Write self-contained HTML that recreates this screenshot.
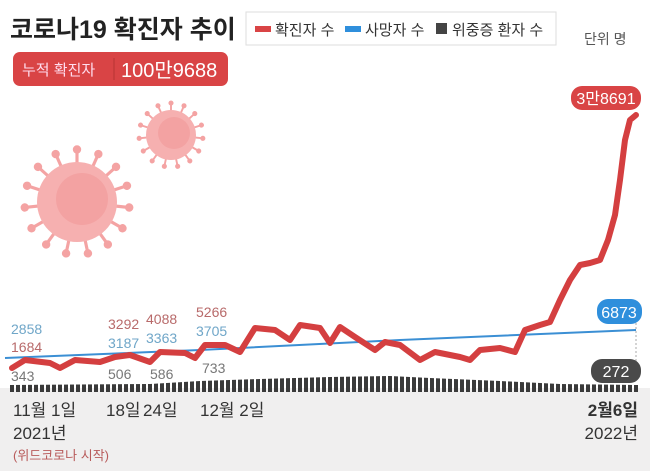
<!DOCTYPE html>
<html><head><meta charset="utf-8"><style>
body{margin:0;width:650px;height:471px;overflow:hidden;background:#fff;font-family:"Liberation Sans","Noto Sans CJK KR",sans-serif;}
svg{position:absolute;left:0;top:0}
</style></head><body>
<svg width="650" height="471" viewBox="0 0 650 471" font-family="Liberation Sans, Noto Sans CJK KR, sans-serif">
<defs>
<pattern id="bars" x="10" y="0" width="6" height="471" patternUnits="userSpaceOnUse"><rect x="0" y="0" width="4" height="471" fill="#3a3a3a"/></pattern>
<g id="sp"><line x1="0" y1="0" x2="0" y2="-50" stroke="#f4a3a3" stroke-width="3"/><circle cx="0" cy="-50" r="4" fill="#f4a3a3"/></g>
</defs>
<rect x="0" y="388" width="650" height="83" fill="#f0efef"/>
<!-- title -->
<text x="10" y="38" font-size="25" font-weight="bold" fill="#222">코로나19 확진자 추이</text>
<rect x="246" y="12" width="310" height="33" fill="#fff" stroke="#ddd"/>
<rect x="255" y="26" width="16" height="6" fill="#d94445"/>
<text x="275" y="35" font-size="15" fill="#333">확진자 수</text>
<rect x="345" y="26" width="16" height="6" fill="#2f8fdc"/>
<text x="365" y="35" font-size="15" fill="#333">사망자 수</text>
<rect x="436" y="23" width="11" height="11" fill="#444"/>
<text x="452" y="35" font-size="15" fill="#333">위중증 환자 수</text>
<text x="584" y="44" font-size="14" fill="#555">단위 명</text>
<rect x="13" y="52" width="215" height="34" rx="7" fill="#d94445"/>
<line x1="114" y1="58" x2="114" y2="80" stroke="#b83333"/>
<text x="22" y="75" font-size="15" fill="#fde">누적 확진자</text>
<text x="121" y="77" font-size="20" fill="#fff">100만9688</text>
<!-- viruses -->
<g transform="translate(77,202)">
<g transform="scale(1.05)"><use href="#sp"/><use href="#sp" transform="rotate(24)"/><use href="#sp" transform="rotate(48)"/><use href="#sp" transform="rotate(72)"/><use href="#sp" transform="rotate(96)"/><use href="#sp" transform="rotate(120)"/><use href="#sp" transform="rotate(144)"/><use href="#sp" transform="rotate(168)"/><use href="#sp" transform="rotate(192)"/><use href="#sp" transform="rotate(216)"/><use href="#sp" transform="rotate(240)"/><use href="#sp" transform="rotate(264)"/><use href="#sp" transform="rotate(288)"/><use href="#sp" transform="rotate(312)"/><use href="#sp" transform="rotate(336)"/></g>
<circle r="40" fill="#f6b0b0"/><circle cx="5" cy="-3" r="26" fill="#f19a9a" opacity=".6"/>
</g>
<g transform="translate(171,135)">
<g transform="scale(0.64)"><use href="#sp"/><use href="#sp" transform="rotate(24)"/><use href="#sp" transform="rotate(48)"/><use href="#sp" transform="rotate(72)"/><use href="#sp" transform="rotate(96)"/><use href="#sp" transform="rotate(120)"/><use href="#sp" transform="rotate(144)"/><use href="#sp" transform="rotate(168)"/><use href="#sp" transform="rotate(192)"/><use href="#sp" transform="rotate(216)"/><use href="#sp" transform="rotate(240)"/><use href="#sp" transform="rotate(264)"/><use href="#sp" transform="rotate(288)"/><use href="#sp" transform="rotate(312)"/><use href="#sp" transform="rotate(336)"/></g>
<circle r="25" fill="#f6b0b0"/><circle cx="3" cy="-2" r="16" fill="#f19a9a" opacity=".6"/>
</g>
<!-- bars -->
<path d="M10,392 L10,385 L150,384 L200,381 L260,379 L330,377 L390,376 L430,378 L500,381 L560,384 L640,385 L640,392 Z" fill="url(#bars)"/>
<rect x="0" y="387" width="650" height="3" fill="#f0efef" opacity="0"/>
<!-- blue -->
<polyline points="5,358 200,350 400,340 636,330" fill="none" stroke="#3b8fd4" stroke-width="2"/>
<line x1="636" y1="323" x2="636" y2="362" stroke="#aaa" stroke-dasharray="2,2"/>
<!-- red -->
<polyline points="12,368 25,360 50,363 60,368 75,360 100,362 115,357 130,355 150,362 160,352 185,353 195,358 205,345 225,345 240,352 255,328 275,330 290,340 300,325 320,328 330,343 340,327 355,337 375,350 385,342 400,345 420,360 435,352 460,357 470,360 480,350 500,348 515,352 525,330 540,325 550,322 560,300 570,280 580,265 590,263 600,260 608,240 615,215 620,180 625,140 630,120 636,115" fill="none" stroke="#d43f40" stroke-width="6" stroke-linejoin="round" stroke-linecap="round"/>
<!-- pills -->
<rect x="571" y="86" width="70" height="24" rx="11" fill="#d94445"/>
<text x="606" y="104" font-size="16" fill="#fff" text-anchor="middle">3만8691</text>
<rect x="597" y="299" width="45" height="25" rx="11" fill="#2f8fdc"/>
<text x="619" y="318" font-size="16" fill="#fff" text-anchor="middle">6873</text>
<rect x="591" y="359" width="50" height="24" rx="11" fill="#4a4a4a"/>
<text x="616" y="377" font-size="16" fill="#fff" text-anchor="middle">272</text>
<!-- data labels -->
<g font-size="14">
<text x="11" y="334" fill="#6fa6c8">2858</text>
<text x="11" y="352" fill="#b86a6a">1684</text>
<text x="11" y="381" fill="#777">343</text>
<text x="108" y="329" fill="#b86a6a">3292</text>
<text x="108" y="348" fill="#6fa6c8">3187</text>
<text x="108" y="379" fill="#777">506</text>
<text x="146" y="324" fill="#b86a6a">4088</text>
<text x="146" y="343" fill="#6fa6c8">3363</text>
<text x="150" y="379" fill="#777">586</text>
<text x="196" y="317" fill="#b86a6a">5266</text>
<text x="196" y="336" fill="#6fa6c8">3705</text>
<text x="202" y="373" fill="#777">733</text>
</g>
<g font-size="17" fill="#333">
<text x="13" y="416">11월 1일</text>
<text x="13" y="439">2021년</text>
<text x="106" y="416">18일</text><text x="143" y="416">24일</text>
<text x="200" y="416">12월 2일</text>
<text x="638" y="416" text-anchor="end" font-weight="bold">2월6일</text>
<text x="638" y="439" text-anchor="end">2022년</text>
</g>
<text x="13" y="460" font-size="13" fill="#b85a5a">(위드코로나 시작)</text>
</svg>
</body></html>
